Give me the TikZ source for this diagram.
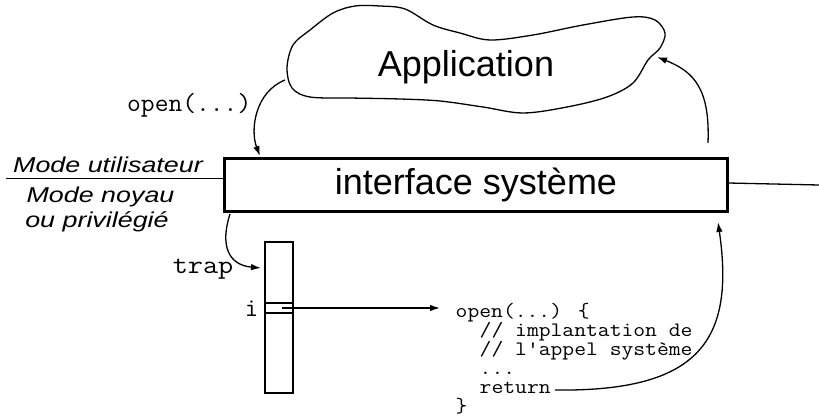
\documentclass[tikz,border=0pt]{standalone}
\usepackage{fontspec}
\newfontfamily\arialf{Liberation Sans}
\usetikzlibrary{arrows.meta}
\newcommand\cwide[1]{\scalebox{1.12}[1]{#1}}
\begin{document}
\begin{tikzpicture}[x=1pt,y=-1pt,
  conn/.style={line width=1.3pt, -{Latex[length=10pt,width=6.5pt]}},
  thinline/.style={line width=1.3pt},
  big/.style={font=\arialf\fontsize{36}{40}\selectfont, inner sep=0pt},
  modetext/.style={font=\arialf\itshape\fontsize{21.5}{24}\selectfont, inner sep=0pt, anchor=base},
  mono/.style={font=\ttfamily\fontsize{26}{28}\selectfont, inner sep=0pt},
  codeline/.style={font=\ttfamily\fontsize{20.5}{19}\selectfont, inner sep=0pt, anchor=base west},
  tablebox/.style={draw, line width=1.6pt, inner sep=0pt, minimum width=28pt},
]
\useasboundingbox (0,0) rectangle (819,417);

% cloud
\draw[thinline] plot[smooth cycle, tension=0.55] coordinates {
 (287,68) (293,45) (310,30) (333,13) (355,6) (380,6) (405,9) (433,25) (460,33)
 (490,40) (533,35) (583,25) (633,17) (655,20) (665,33) (660,48) (648,60)
 (633,83) (607,97) (567,107) (523,113) (483,107) (440,101) (400,99) (350,98)
 (310,97) (292,88)};
\node[big, anchor=base] (app) at (466,77) {Application};

% interface box
\node[big, draw, line width=3pt, minimum width=503pt, minimum height=53pt] (iface) at (476,185) {interface système};

% mode line and texts
\coordinate (mL) at (6,178.5);
\draw[thinline] (mL) -- (mL -| iface.west);
\coordinate (mRs) at (728,183);
\coordinate (mR) at (819,185);
\draw[thinline] (mRs) -- (mR);
\node[modetext] (mu) at (108,172) {\scalebox{1.25}[1]{Mode utilisateur}};
\node[modetext] (mn) at (100.5,202) {\scalebox{1.25}[1]{Mode noyau}};
\node[modetext] (mp) at (97,227) {\scalebox{1.25}[1]{ou privilégié}};

% open(...) call
\node[mono, anchor=base west] (opencall) at (127,112) {\scalebox{1.03}[1]{open(...)}};
\coordinate (cloudL) at (285,80);
\coordinate (ifaceIn) at (260,156);
\draw[conn] (cloudL) .. controls (255,92) and (250,130) .. (ifaceIn);

% return to application
\coordinate (ifaceOut) at (708,143);
\coordinate (cloudR) at (657,57);
\draw[conn] (ifaceOut) .. controls (710,90) and (695,72) .. (cloudR);

% trap
\node[tablebox, minimum height=151pt] (tbl) at (279,317.5) {};
\node[tablebox, minimum height=10pt] (slot) at (279,308) {};
\node[mono, anchor=base east] (trap) at (233.5,273) {\scalebox{1.13}[1]{trap}};
\node[mono, anchor=base] (idx) at (251.5,316) {i};
\coordinate (trapS) at (230,214);
\coordinate (trapT) at (261,268);
\draw[conn] (trapS) .. controls (220,245) and (228,265) .. (trapT);

% code
\node[codeline] (code1) at (455.5,317) {\cwide{open(...) \{}};
\node[codeline] (code2) at (479.5,336) {\cwide{// implantation de}};
\node[codeline] (code3) at (479.5,355) {\cwide{// l\textquotesingle appel système}};
\node[codeline] (code4) at (479.5,374) {\cwide{...}};
\node[codeline] (code5) at (479.5,393) {\cwide{return}};
\node[codeline] (code6) at (455.5,412) {\cwide{\}}};

\coordinate (slotS) at (282,308);
\coordinate (openTip) at (440,308);
\draw[conn] (slotS) -- (openTip);

\coordinate (retS) at ([xshift=4pt,yshift=3pt]code5.base east);
\coordinate (retTip) at (718,222);
\draw[conn] (retS) .. controls (700,392) and (735,340) .. (retTip);
\end{tikzpicture}
\end{document}
